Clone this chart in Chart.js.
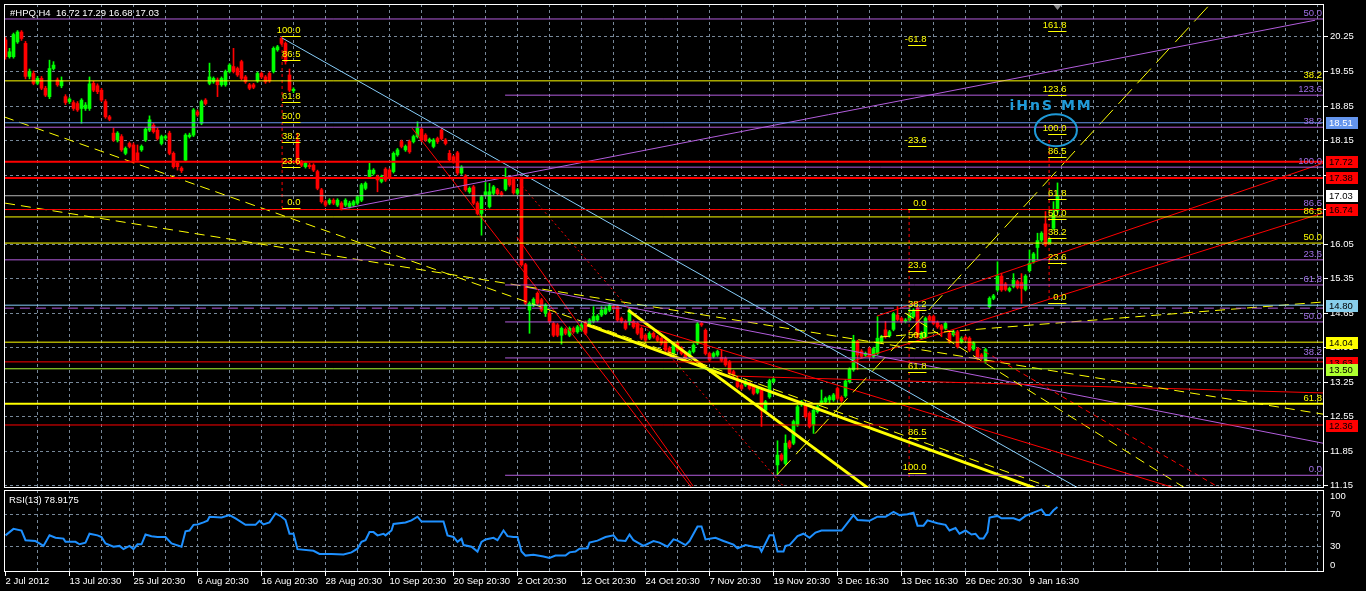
<!DOCTYPE html>
<html>
<head>
<meta charset="utf-8">
<title>#HPQ,H4</title>
<script src="https://cdn.jsdelivr.net/npm/chart.js@4.4.1/dist/chart.umd.min.js"></script>
<style>
  html, body { margin: 0; padding: 0; background: #000; overflow: hidden; }
  #wrap { position: relative; width: 1366px; height: 591px; background: #000; }
  canvas { position: absolute; left: 0; }
  #main { top: 0; }
  #rsi { top: 489px; }
</style>
</head>
<body>
<div id="wrap">
  <canvas id="main" width="1366" height="489"></canvas>
  <canvas id="rsi" width="1366" height="102"></canvas>
</div>
<script>
Chart.defaults.font.family = "'Liberation Sans', Arial, sans-serif";

// H4 bars, 2 Jul 2012 .. 11 Jan 2013 (bar 0 = first bar on screen)
const opens = [
  20.19,19.85,19.85,20.15,20.35,20.12,19.45,19.51,19.31,19.41,19.21,19.04,
  19.61,19.38,19.26,19.04,18.94,18.92,18.90,18.80,18.80,18.80,19.31,19.26,
  19.17,18.94,18.63,18.30,18.16,18.23,17.89,18.09,18.06,17.90,17.96,18.16,
  18.36,18.46,18.36,18.09,18.20,18.30,17.89,17.69,17.59,17.75,18.23,18.26,
  18.73,18.50,18.97,19.31,19.34,19.38,19.28,19.28,19.55,19.65,19.61,19.75,
  19.44,19.28,19.28,19.36,19.51,19.44,19.51,19.55,19.99,20.22,20.12,19.48,
  19.16,18.16,17.72,17.62,17.65,17.65,17.52,17.15,16.91,16.88,16.94,16.84,
  16.88,16.84,16.81,16.84,16.88,16.94,17.18,17.42,17.48,17.42,17.32,17.57,
  17.55,17.52,17.86,18.13,17.96,18.13,18.13,18.23,18.38,18.26,18.13,18.03,
  18.19,18.36,18.16,17.89,17.82,17.90,17.49,17.43,17.11,17.21,16.88,16.67,
  17.05,16.81,17.08,17.15,17.09,17.16,17.38,17.36,17.08,17.38,15.63,14.71,
  14.81,15.05,14.92,14.65,14.65,14.44,14.41,14.20,14.32,14.20,14.34,14.27,
  14.31,14.46,14.41,14.48,14.51,14.61,14.65,14.71,14.78,14.78,14.54,14.48,
  14.48,14.48,14.44,14.34,14.20,14.14,14.24,14.17,14.14,14.10,13.94,13.83,
  14.04,13.94,13.83,13.77,13.87,14.04,14.44,14.30,13.83,13.77,13.80,13.75,
  13.73,13.66,13.46,13.26,13.19,13.19,13.22,13.16,13.04,13.09,12.68,12.95,
  13.26,11.57,11.77,11.60,12.04,12.01,12.38,12.79,12.79,12.62,12.38,12.65,
  12.82,12.85,12.89,12.89,13.12,12.94,12.97,13.26,13.50,14.07,13.88,13.80,
  13.93,13.77,13.83,14.07,14.31,14.19,14.32,14.61,14.54,14.48,14.51,14.58,
  14.75,14.14,14.17,14.58,14.58,14.46,14.39,14.34,14.24,14.21,14.27,14.07,
  14.16,14.14,13.92,13.91,13.80,13.66,14.78,14.95,15.12,15.40,15.24,15.11,
  15.19,15.29,15.27,15.13,15.51,15.69,15.98,16.13,16.46,16.07,16.37,16.72
];
const highs = [
  20.24,20.02,20.33,20.38,20.38,20.16,19.60,19.56,19.45,19.45,19.25,19.78,
  19.75,19.42,19.44,19.08,19.02,18.96,18.94,19.00,18.92,19.44,19.35,19.30,
  19.21,18.98,18.66,18.40,18.33,18.27,18.02,18.12,18.10,18.06,18.06,18.41,
  18.65,18.50,18.40,18.26,18.26,18.34,17.92,17.72,17.62,18.29,18.30,18.80,
  18.77,18.97,19.00,19.72,19.44,19.42,19.44,19.58,19.71,20.02,19.64,19.78,
  19.47,19.31,19.31,19.54,19.54,19.47,19.54,20.05,20.08,20.25,20.15,19.60,
  19.22,18.30,17.75,17.72,17.69,17.68,17.55,17.18,16.94,16.97,16.97,16.97,
  16.91,16.97,16.92,16.94,17.04,17.28,17.31,17.69,17.58,17.45,17.45,17.60,
  17.58,17.92,17.99,18.16,18.06,18.16,18.26,18.53,18.41,18.29,18.20,18.19,
  18.22,18.39,18.19,17.95,17.85,17.93,17.64,17.46,17.21,17.24,16.91,17.04,
  17.30,17.28,17.24,17.18,17.12,17.59,17.41,17.39,17.18,17.41,15.66,14.88,
  14.96,15.08,14.95,14.84,14.68,14.47,14.44,14.37,14.35,14.37,14.37,14.40,
  14.44,14.49,14.54,14.78,14.62,14.78,14.78,14.84,14.81,14.81,14.57,14.51,
  14.74,14.51,14.47,14.37,14.23,14.27,14.27,14.20,14.17,14.13,13.97,14.05,
  14.07,13.97,13.86,13.90,14.03,14.46,14.47,14.33,13.86,13.86,13.90,13.91,
  13.76,13.69,13.49,13.37,13.22,13.29,13.25,13.19,13.15,13.12,12.88,13.31,
  13.34,12.06,11.80,12.18,12.07,12.48,12.78,12.88,12.82,12.65,12.71,12.78,
  13.09,12.95,12.98,13.02,13.15,12.97,13.30,13.54,14.20,14.10,13.91,13.86,
  13.96,13.96,14.58,14.20,14.48,14.30,14.66,14.78,14.57,14.54,14.78,14.74,
  14.81,14.27,14.57,14.61,14.61,14.49,14.42,14.47,14.27,14.30,14.30,14.17,
  14.19,14.17,14.07,13.94,13.83,13.94,14.98,15.03,15.69,15.46,15.27,15.18,
  15.45,15.32,15.45,15.43,15.93,15.88,16.27,16.30,16.71,16.18,16.91,17.29
];
const lows = [
  19.80,19.82,19.82,20.12,20.18,19.40,19.40,19.28,19.28,19.18,19.04,19.00,
  19.58,19.25,19.22,18.88,18.90,18.76,18.74,18.50,18.76,18.76,19.14,19.10,
  18.94,18.60,18.55,18.13,18.12,17.93,17.86,18.00,17.69,17.72,17.93,18.13,
  18.33,18.30,18.16,18.06,18.16,17.86,17.59,17.55,17.50,17.72,18.20,18.23,
  18.64,18.47,18.87,19.28,19.31,19.04,19.25,19.25,19.52,19.52,19.45,19.38,
  19.31,19.18,19.20,19.33,19.41,19.31,19.33,19.52,19.96,20.09,19.70,19.14,
  19.12,17.66,17.62,17.59,17.58,17.52,17.15,16.88,16.81,16.85,16.85,16.81,
  16.74,16.81,16.78,16.81,16.85,16.91,17.15,17.39,17.45,17.11,17.29,17.32,
  17.38,17.49,17.83,18.00,17.93,17.89,18.10,18.20,18.13,18.13,18.10,18.00,
  18.09,18.16,18.06,17.73,17.69,17.45,17.46,17.12,17.08,16.85,16.64,16.23,
  17.02,16.78,17.05,17.04,17.02,17.13,17.22,17.06,17.05,15.60,14.82,14.24,
  14.78,14.82,14.68,14.58,14.45,14.17,14.17,14.02,14.21,14.17,14.24,14.24,
  14.28,14.21,14.38,14.45,14.48,14.58,14.62,14.68,14.72,14.48,14.45,14.31,
  14.41,14.34,14.21,14.11,14.07,14.11,14.14,14.07,14.01,13.87,13.80,13.80,
  13.87,13.80,13.70,13.74,13.84,14.01,14.38,13.80,13.67,13.74,13.77,13.66,
  13.57,13.40,13.36,13.13,13.09,13.16,13.09,12.99,13.01,12.35,12.65,12.92,
  13.23,11.37,11.65,11.57,11.90,11.98,12.35,12.76,12.52,12.32,12.21,12.62,
  12.79,12.82,12.82,12.86,12.89,12.84,12.94,13.23,13.47,13.50,13.74,13.77,
  13.74,13.74,13.80,14.04,14.14,14.16,14.29,14.49,14.45,14.45,14.48,14.55,
  14.14,14.11,14.14,14.48,14.41,14.34,14.17,14.31,14.04,14.18,13.94,14.04,
  14.09,13.87,13.89,13.70,13.70,13.63,14.75,14.92,15.09,15.09,15.10,15.08,
  15.16,15.14,14.85,15.10,15.48,15.66,15.73,16.10,16.00,16.04,16.34,16.68
];
const closes = [
  19.85,19.95,20.30,20.35,20.22,19.45,19.55,19.31,19.41,19.21,19.07,19.61,
  19.68,19.28,19.36,18.92,18.99,18.80,18.77,18.97,18.87,19.30,19.17,19.14,
  18.97,18.63,18.58,18.16,18.30,17.96,17.99,18.03,17.72,17.75,18.03,18.38,
  18.57,18.33,18.19,18.23,18.23,17.89,17.62,17.62,17.54,18.26,18.26,18.77,
  18.67,18.94,18.90,19.44,19.41,19.28,19.41,19.55,19.68,19.55,19.48,19.41,
  19.34,19.21,19.23,19.51,19.44,19.34,19.36,20.02,20.05,20.12,19.75,19.17,
  19.19,17.69,17.65,17.69,17.62,17.55,17.18,16.91,16.84,16.94,16.88,16.94,
  16.77,16.94,16.88,16.91,17.01,17.25,17.28,17.55,17.55,17.35,17.42,17.35,
  17.41,17.89,17.96,18.03,18.03,17.92,18.23,18.40,18.16,18.16,18.17,18.16,
  18.13,18.19,18.09,17.76,17.72,17.49,17.61,17.15,17.18,16.88,16.67,17.01,
  17.11,17.11,17.21,17.07,17.05,17.38,17.25,17.09,17.15,15.63,14.85,14.85,
  14.93,14.85,14.71,14.81,14.48,14.20,14.20,14.34,14.24,14.34,14.27,14.37,
  14.41,14.24,14.51,14.58,14.59,14.71,14.75,14.81,14.75,14.51,14.48,14.34,
  14.71,14.37,14.24,14.14,14.10,14.24,14.17,14.10,14.04,13.90,13.83,14.02,
  13.90,13.83,13.73,13.87,14.00,14.43,14.41,13.83,13.70,13.83,13.87,13.69,
  13.60,13.43,13.39,13.16,13.12,13.26,13.12,13.02,13.12,12.68,12.85,13.28,
  13.31,11.77,11.68,12.01,11.93,12.45,12.75,12.85,12.55,12.35,12.68,12.75,
  12.87,12.92,12.95,12.99,12.92,12.87,13.27,13.51,14.10,13.80,13.77,13.83,
  13.77,13.93,14.14,14.17,14.17,14.27,14.63,14.52,14.48,14.51,14.65,14.71,
  14.17,14.24,14.54,14.51,14.44,14.37,14.32,14.44,14.07,14.27,13.97,14.14,
  14.12,13.90,14.04,13.73,13.73,13.91,14.95,15.00,15.40,15.12,15.13,15.15,
  15.32,15.17,15.15,15.40,15.66,15.85,16.12,16.27,16.03,16.15,16.64,17.03
];

// RSI(13), read at the bar positions where the line turns
const rsiBars = [
  0,2,4,5,7.5,9.5,11,12.5,14.5,15,
  17.5,18.5,20,21,23,24,25,27,28.5,29.5,
  31,32,33,34,35,36.5,38,40,41.5,44,
  45,46,47,48,49.5,50.5,51,54,56,57.5,
  60,62.5,63.5,64.5,66,67.5,69,70,71,72,
  73,77,78.5,81.5,84.5,86.5,88,89,90,91,
  92,93,94.5,95,96.5,97,100,101.5,103,104,
  106.5,109.5,110.5,112,113,114,114.5,116.5,118,119,
  120,122,123,124.5,125.5,127,128,129,130,132,
  134.5,136,137.5,140,141,142.5,143.5,145.5,146,148,
  150,152,153,155,156,157,159.5,162,163.5,165.5,
  167,168,170,171,173,174,175,177.5,179.5,182,
  183,185,187,188.5,189,191,192,193,194.5,195,
  196,198,199.5,201,202.5,204,209,212,213,216,
  218,220,222,223.5,225.5,227,228,229.5,230.5,233,
  235,236,237.5,238.5,240,241.5,242.5,243.5,244.5,245.5,
  246,248,249,252,253.5,255,257,259,260,261,
  262,263
];
const rsiVals = [
  44,52,50,38,37,31,44,41,40,36,
  36,33,35,46,44,42,34,30,31,27,
  31,27,33,33,45,43,42,42,34,30,
  49,50,57,57.5,60,62,67,66,69,65,
  57,57,62,57.5,60,71,67,63,46,46,
  27,25,21,21,20.5,23,27.5,36,38,48,
  48,44,46,44,50,58,60,62.5,67,61,
  61,61,44,42,36,40,32,30,24,36,
  39,41,38,50,43,42,42,24,19,20,
  18,16,19,19,23,24,27.5,28,35,37.5,
  42,44,38,37,45,38,31,37,35,30,
  39,37.5,32,37,55,55,39,41,37,32.5,
  28,32,30,29,24,44,44,24,24,31,
  32,43,46,41,47.5,50,50,69,63,62,
  67,67,73,69,70,72,56,56,62.5,59,
  57,50,53,46,50,45,46,40,40,48,
  66,68,65,65,62.5,68,72,76,69,69,
  75,78.9175
];

const timeLabels = ['2 Jul 2012','13 Jul 20:30','25 Jul 20:30','6 Aug 20:30','16 Aug 20:30',
  '28 Aug 20:30','10 Sep 20:30','20 Sep 20:30','2 Oct 20:30','12 Oct 20:30','24 Oct 20:30',
  '7 Nov 20:30','19 Nov 20:30','3 Dec 16:30','13 Dec 16:30','26 Dec 20:30','9 Jan 16:30'];
const timeLabelBars = [0,16,32,48,64,80,96,112,128,144,160,176,192,208,224,240,256];
const priceTicks = [20.25,19.55,18.85,18.15,17.45,16.75,16.05,15.35,14.65,13.95,13.25,12.55,11.85,11.15];
const rsiTicks = [100,70,30,0];
const rsiLevels = [70,30];

// horizontal levels: price and first bar
const hPrices = [20.615,19.36,19.07,18.51,18.42,17.72,17.61,17.39,17.03,16.75,16.60,16.07,
  15.73,15.22,14.81,14.75,14.47,14.06,13.74,13.66,13.52,12.81,12.38,11.36];
const hFrom = [-0.4,-0.4,124.9,-0.4,-0.4,-0.4,108,-0.4,-0.4,-0.4,-0.4,-0.4,
  -0.4,124.9,-0.4,-0.4,124.9,-0.4,124.9,-0.4,-0.4,-0.4,-0.4,124.9];

// trend lines: start bar/price, end bar/price
const tX1 = [69.15,84.15,-0.35,-0.1,218.65,192.9,224.9,145.4,155.65,101.65,127.9,129.15,156.15,182.9,231.15,217.9,211.15,129.9,69.15,225.9,260.9];
const tY1 = [20.23,16.76,18.63,16.88,14.165,11.37,14.65,14.41,14.71,18.40,16.19,17.23,14.47,13.37,14.51,14.59,13.66,15.18,20.23,16.74,18.16];
const tX2 = [268.65,327.4,261.15,329.4,329.4,301.9,294.9,257.4,215.65,171.65,171.9,194.9,292.4,329.4,303.65,329.4,329.4,329.4,69.15,225.9,260.9];
const tY2 = [11.08,20.59,11.12,12.60,14.875,20.98,11.10,11.10,11.10,11.10,11.14,11.10,11.10,13.03,11.10,17.69,16.68,12.01,16.78,11.30,14.92];

// fibonacci objects: anchor bar, 0% and 100% prices, shown levels
const fibAnchors = [69.15, 225.65, 260.65];
const fibZero = [16.78, 16.76, 14.854];
const fibHundred = [20.25, 11.386, 18.262];
const fibRatios = [
  [100, 86.5, 61.8, 50, 38.2, 23.6, 0],
  [-61.8, -23.6, 0, 23.6, 38.2, 50, 61.8, 86.5, 100],
  [0, 23.6, 38.2, 50, 61.8, 86.5, 100, 123.6, 161.8]
];

// level names on the right edge
const tagPrices = [20.615,19.36,19.07,18.42,17.61,16.75,16.60,16.07,15.73,15.22,14.47,13.74,12.81,11.36];
const tagTexts = ['50.0','38.2','123.6','38.2','100.0','86.5','86.5','50.0','23.6','61.8','50.0','38.2','61.8','0.0'];

// price boxes on the axis
const boxPrices = [18.51,17.72,17.38,17.03,16.74,14.80,14.04,13.63,13.50,12.36];

// note near the head and shoulders target
const noteBar = 261.4, notePrice = 18.85;
const ringBar = 262.6, ringPrice = 18.36;

// ---- styles ----
const PURPLE = '#b25ddc', YELLOW = '#ffff00', RED = '#ff0000', LBLUE = '#87cefa';
const hColors = [PURPLE,YELLOW,PURPLE,'#6495ed',PURPLE,RED,PURPLE,RED,'#b4b4b4',RED,YELLOW,YELLOW,
  PURPLE,PURPLE,LBLUE,PURPLE,PURPLE,YELLOW,PURPLE,RED,'#adff2f',YELLOW,RED,PURPLE];
const hWidths = [1,1,1,1,1,2,1,2,1,1,1,1,1,1,1,1,1,1,1,1,1,2,1,1];
const tColors = [LBLUE,PURPLE,YELLOW,YELLOW,YELLOW,YELLOW,YELLOW,YELLOW,YELLOW,RED,RED,RED,RED,RED,RED,RED,RED,PURPLE,RED,RED,RED];
const tWidths = [1,1,1,1,1,1,1,3,3,1,1,1,1,1,1,1,1,1,1,1,1];
const tDashes = [[],[],[10,6],[10,6],[10,6],[20,8],[10,6],[],[],[],[],[2,3],[],[],[5,4],[],[],[],[3,3],[3,3],[3,3]];
const tagColors = ['#a070e6',YELLOW,'#a070e6','#a070e6','#a070e6','#a070e6',YELLOW,YELLOW,'#a070e6','#a070e6','#a070e6','#a070e6',YELLOW,'#a070e6'];
const boxFills = ['#6495ed',RED,RED,'#ffffff',RED,'#87ceeb',YELLOW,RED,'#adff2f',RED];
const boxInks = ['#ffffff','#000','#000','#000','#000','#000','#000','#000','#000','#000'];
const GRID = '#778899';
const FONT = '9.5px "Liberation Sans", Arial, sans-serif';
const X_MIN = -0.375, X_MAX = 329.625;

const gridBars = [];
for (let b = 8; b < X_MAX; b += 8) gridBars.push(b);

function hline(ctx, x1, x2, y) { ctx.beginPath(); ctx.moveTo(x1, y); ctx.lineTo(x2, y); ctx.stroke(); }
function vline(ctx, x, y1, y2) { ctx.beginPath(); ctx.moveTo(x, y1); ctx.lineTo(x, y2); ctx.stroke(); }

function segment(x1, y1, x2, y2, color, width, dash) {
  return {
    type: 'line', data: [{x: x1, y: y1}, {x: x2, y: y2}],
    borderColor: color, borderWidth: width, borderDash: dash,
    pointRadius: 0, fill: false, tension: 0, order: 0
  };
}

const wickData = [], bodyData = [], candleColors = [];
for (let i = 0; i < opens.length; i++) {
  wickData.push({x: i, y: [lows[i], highs[i]]});
  bodyData.push({x: i, y: [opens[i], closes[i]]});
  candleColors.push(closes[i] >= opens[i] ? '#00ff00' : '#ff0000');
}

const overlaySets = [];
hPrices.forEach(function(p, i) {
  overlaySets.push(segment(hFrom[i], p, X_MAX, p, hColors[i], hWidths[i], i === 15 ? [10, 6] : []));
});
tX1.forEach(function(x1, i) {
  overlaySets.push(segment(x1, tY1[i], tX2[i], tY2[i], tColors[i], tWidths[i], tDashes[i]));
});

const mainDecor = {
  id: 'mainDecor',
  beforeDatasetsDraw(chart) {
    const ctx = chart.ctx, a = chart.chartArea, xs = chart.scales.x, ys = chart.scales.y;
    ctx.save();
    ctx.strokeStyle = GRID; ctx.lineWidth = 1; ctx.setLineDash([3, 3]);
    gridBars.forEach(function(b) { vline(ctx, Math.floor(xs.getPixelForValue(b)) + 0.5, a.top, a.bottom); });
    priceTicks.forEach(function(p) { hline(ctx, a.left, a.right, Math.floor(ys.getPixelForValue(p)) + 0.5); });
    ctx.restore();
  },
  afterDraw(chart) {
    const ctx = chart.ctx, a = chart.chartArea, xs = chart.scales.x, ys = chart.scales.y;
    ctx.save();
    ctx.font = FONT;
    ctx.lineWidth = 1;

    // fibonacci level marks
    ctx.textAlign = 'right'; ctx.textBaseline = 'bottom';
    ctx.fillStyle = YELLOW; ctx.strokeStyle = YELLOW;
    fibAnchors.forEach(function(b, k) {
      const x1 = xs.getPixelForValue(b), x2 = xs.getPixelForValue(b + 4.6);
      fibRatios[k].forEach(function(r) {
        const p = fibZero[k] + (fibHundred[k] - fibZero[k]) * r / 100;
        const py = Math.floor(ys.getPixelForValue(p)) + 0.5;
        hline(ctx, x1, x2, py);
        ctx.fillText(r.toFixed(1), x2, py - 1);
      });
    });

    // level names at the right edge
    tagPrices.forEach(function(p, i) {
      ctx.fillStyle = tagColors[i];
      ctx.fillText(tagTexts[i], a.right - 2, ys.getPixelForValue(p) - 1);
    });

    // note and ring
    ctx.fillStyle = '#1f9ad8'; ctx.strokeStyle = '#1f9ad8';
    ctx.font = 'bold 14px "DejaVu Sans", sans-serif';
    ctx.textAlign = 'center'; ctx.textBaseline = 'middle';
    ctx.letterSpacing = '2px';
    ctx.fillText('iHnS MM', xs.getPixelForValue(noteBar), ys.getPixelForValue(notePrice));
    ctx.letterSpacing = '0px';
    ctx.lineWidth = 2;
    ctx.beginPath();
    ctx.ellipse(xs.getPixelForValue(ringBar), ys.getPixelForValue(ringPrice), 21, 16, 0, 0, Math.PI * 2);
    ctx.stroke();

    // frame
    ctx.lineWidth = 1; ctx.strokeStyle = '#ffffff';
    ctx.strokeRect(a.left + 0.5, a.top + 0.5, a.right - a.left - 1, a.bottom - a.top - 1);

    // last bar marker
    const mx = Math.floor(xs.getPixelForValue(opens.length - 1)) + 0.5;
    ctx.fillStyle = '#8c8c8c';
    ctx.beginPath(); ctx.moveTo(mx - 4, a.top + 1); ctx.lineTo(mx + 4, a.top + 1); ctx.lineTo(mx, a.top + 6); ctx.fill();

    // price axis
    ctx.font = FONT; ctx.textAlign = 'left'; ctx.textBaseline = 'middle';
    ctx.fillStyle = '#ffffff'; ctx.strokeStyle = '#ffffff';
    priceTicks.forEach(function(p) {
      const py = Math.floor(ys.getPixelForValue(p)) + 0.5;
      hline(ctx, a.right, a.right + 4, py);
      ctx.fillText(p.toFixed(2), a.right + 6, py);
    });
    boxPrices.forEach(function(p, i) {
      const py = Math.round(ys.getPixelForValue(p));
      ctx.fillStyle = boxFills[i]; ctx.fillRect(a.right + 2, py - 6, 32, 12);
      ctx.fillStyle = boxInks[i]; ctx.fillText(p.toFixed(2), a.right + 5, py);
    });

    // symbol line
    const last = opens.length - 1;
    ctx.fillStyle = '#ffffff';
    ctx.fillText('#HPQ,H4  ' + [opens[last], highs[last], lows[last], closes[last]].map(function(v) { return v.toFixed(2); }).join(' '), 10, 13);
    ctx.restore();
  }
};

new Chart(document.getElementById('main'), {
  type: 'bar',
  data: {
    datasets: overlaySets.concat([
      {type: 'bar', data: bodyData, backgroundColor: candleColors, borderWidth: 0,
       barThickness: 3, minBarLength: 1, grouped: false, order: 1},
      {type: 'bar', data: wickData, backgroundColor: candleColors, borderWidth: 0,
       barThickness: 1, grouped: false, order: 2}
    ])
  },
  options: {
    responsive: false, animation: false, devicePixelRatio: 1, events: [],
    layout: {padding: {left: 4, right: 42, top: 4, bottom: 1}},
    plugins: {legend: {display: false}, tooltip: {enabled: false}},
    scales: {
      x: {type: 'linear', display: false, offset: false, min: X_MIN, max: X_MAX},
      y: {type: 'linear', display: false, min: 11.102, max: 20.919}
    }
  },
  plugins: [mainDecor]
});

const rsiDecor = {
  id: 'rsiDecor',
  beforeDatasetsDraw(chart) {
    const ctx = chart.ctx, a = chart.chartArea, xs = chart.scales.x, ys = chart.scales.y;
    ctx.save();
    ctx.strokeStyle = GRID; ctx.lineWidth = 1; ctx.setLineDash([3, 3]);
    gridBars.forEach(function(b) { vline(ctx, Math.floor(xs.getPixelForValue(b)) + 0.5, a.top, a.bottom); });
    rsiLevels.forEach(function(v) { hline(ctx, a.left, a.right, Math.floor(ys.getPixelForValue(v)) + 0.5); });
    ctx.restore();
  },
  afterDraw(chart) {
    const ctx = chart.ctx, a = chart.chartArea, xs = chart.scales.x, ys = chart.scales.y;
    ctx.save();
    ctx.lineWidth = 1; ctx.strokeStyle = '#ffffff'; ctx.fillStyle = '#ffffff';
    ctx.strokeRect(a.left + 0.5, a.top + 0.5, a.right - a.left - 1, a.bottom - a.top);
    ctx.font = FONT; ctx.textAlign = 'left'; ctx.textBaseline = 'middle';
    rsiTicks.forEach(function(v) {
      const py = Math.min(Math.max(ys.getPixelForValue(v), a.top + 6), a.bottom - 6);
      ctx.fillText(String(v), a.right + 6, py);
    });
    timeLabels.forEach(function(t, i) {
      const px = Math.floor(xs.getPixelForValue(timeLabelBars[i])) + 0.5;
      vline(ctx, px, a.bottom + 1, a.bottom + 5);
      ctx.fillText(t, px, a.bottom + 10);
    });
    ctx.fillText('RSI(13) ' + rsiVals[rsiVals.length - 1].toFixed(4), 9, 11);
    ctx.restore();
  }
};

new Chart(document.getElementById('rsi'), {
  type: 'line',
  data: {
    datasets: [{
      data: rsiBars.map(function(b, i) { return {x: b, y: rsiVals[i]}; }),
      borderColor: '#1e90ff', borderWidth: 2, pointRadius: 0, tension: 0, fill: false
    }]
  },
  options: {
    responsive: false, animation: false, devicePixelRatio: 1, events: [],
    layout: {padding: {left: 4, right: 42, top: 1, bottom: 20}},
    plugins: {legend: {display: false}, tooltip: {enabled: false}},
    scales: {
      x: {type: 'linear', display: false, min: X_MIN, max: X_MAX},
      y: {type: 'linear', display: false, min: 0, max: 100}
    }
  },
  plugins: [rsiDecor]
});
</script>
</body>
</html>
